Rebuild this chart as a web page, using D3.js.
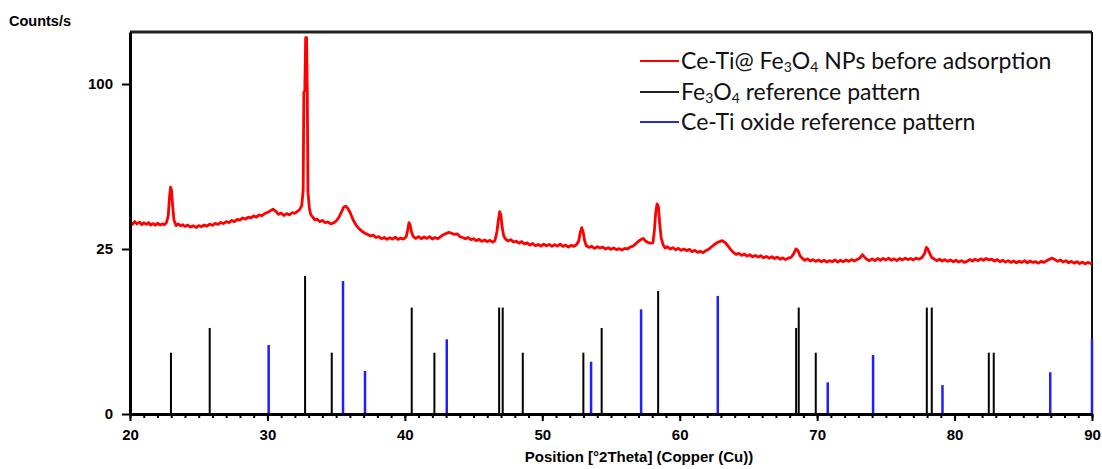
<!DOCTYPE html>
<html>
<head>
<meta charset="utf-8">
<script src="https://cdn.jsdelivr.net/npm/d3@7.9.0/dist/d3.min.js"></script>
<style>
  body { margin: 0; background: #fff; }
  svg { display: block; }
  .axis text { font-family: "Liberation Sans", Arial, sans-serif; font-weight: bold; fill: #000; }
  .legend text { font-family: Lato, "Open Sans", sans-serif; fill: #111; }
</style>
</head>
<body>
<svg id="xrd" width="1102" height="469"></svg>
<script>
// measured scan: [2theta, counts/s]
const scan = [
  [20.0,33.9],[20.2,33.1],[20.35,34.0],[20.5,33.2],[20.7,33.8],[20.85,32.9],[21.0,33.6],[21.2,33.0],
  [21.35,33.7],[21.5,32.8],[21.7,33.3],[21.85,32.7],[22.0,33.4],[22.2,32.8],[22.35,33.2],[22.5,32.9],
  [22.65,33.6],[22.78,36.0],[22.88,43.5],[22.95,47.3],[23.02,46.0],[23.1,40.0],[23.2,34.5],[23.35,32.6],
  [23.5,33.2],[23.7,32.5],[23.85,32.9],[24.0,32.3],[24.2,32.8],[24.4,32.1],[24.6,32.5],[24.85,31.9],
  [25.0,32.6],[25.2,32.2],[25.4,32.8],[25.6,32.4],[25.8,33.1],[26.0,32.7],[26.2,33.4],[26.4,33.0],
  [26.6,33.7],[26.8,33.3],[27.0,34.0],[27.2,33.6],[27.4,34.4],[27.6,34.0],[27.8,34.8],[28.0,34.5],
  [28.2,35.3],[28.4,34.9],[28.6,35.6],[28.8,35.3],[29.0,36.0],[29.2,35.6],[29.4,36.4],[29.6,36.1],
  [29.8,36.9],[30.0,37.3],[30.2,37.9],[30.4,38.5],[30.6,37.8],[30.8,36.6],[31.0,37.1],[31.2,36.2],
  [31.4,36.9],[31.6,36.4],[31.8,37.2],[32.0,37.0],[32.2,37.8],[32.35,38.4],[32.5,40.0],[32.6,46.0],
  [32.65,95.0],[32.72,96.0],[32.78,130.0],[32.85,130.0],[32.9,95.0],[32.95,45.0],[33.05,39.0],[33.15,36.5],
  [33.3,35.6],[33.45,34.6],[33.6,34.9],[33.8,34.0],[34.0,34.4],[34.2,33.6],[34.4,33.9],[34.6,33.2],
  [34.8,33.5],[35.0,34.2],[35.2,35.5],[35.4,37.6],[35.55,39.3],[35.7,39.7],[35.85,38.8],[36.0,37.5],
  [36.15,35.6],[36.3,34.0],[36.45,32.8],[36.6,31.9],[36.75,31.2],[36.9,30.6],[37.1,30.0],[37.3,29.6],
  [37.5,29.1],[37.7,29.4],[37.9,28.6],[38.1,28.9],[38.3,28.2],[38.5,28.6],[38.7,28.0],[38.9,28.5],
  [39.1,28.1],[39.3,28.7],[39.5,28.0],[39.7,28.4],[39.9,28.1],[40.1,28.9],[40.2,31.0],[40.3,33.6],
  [40.38,33.0],[40.48,30.5],[40.6,29.0],[40.8,28.3],[41.0,28.9],[41.2,28.2],[41.4,28.8],[41.6,28.3],
  [41.8,28.9],[42.0,28.1],[42.2,28.6],[42.4,28.2],[42.6,28.9],[42.8,29.5],[43.0,29.9],[43.2,30.3],
  [43.4,30.0],[43.6,29.6],[43.8,29.8],[44.0,28.9],[44.2,28.6],[44.4,28.2],[44.6,28.6],[44.8,27.9],
  [45.0,28.2],[45.2,27.6],[45.4,28.0],[45.6,27.4],[45.8,27.8],[46.0,27.3],[46.2,27.7],[46.4,27.1],
  [46.55,27.6],[46.7,30.5],[46.8,34.5],[46.9,37.6],[46.98,36.5],[47.08,32.0],[47.2,29.0],[47.35,28.0],
  [47.5,27.5],[47.7,27.9],[47.9,27.2],[48.1,27.4],[48.3,26.8],[48.5,27.3],[48.7,26.6],[48.9,26.9],
  [49.1,26.2],[49.3,26.7],[49.5,26.0],[49.7,26.4],[49.9,25.9],[50.1,26.5],[50.3,26.0],[50.5,26.4],
  [50.7,25.8],[50.9,26.3],[51.1,25.9],[51.3,26.5],[51.5,25.8],[51.7,26.2],[51.9,25.6],[52.1,26.1],
  [52.3,25.8],[52.5,26.4],[52.65,27.5],[52.75,30.0],[52.87,31.9],[52.97,30.5],[53.08,27.6],[53.2,26.0],
  [53.4,25.5],[53.6,25.8],[53.8,25.2],[54.0,25.7],[54.2,25.3],[54.4,25.6],[54.6,25.0],[54.8,25.4],
  [55.0,24.9],[55.2,25.3],[55.4,24.8],[55.6,25.1],[55.8,24.7],[56.0,25.2],[56.2,25.0],[56.4,25.6],
  [56.6,25.9],[56.8,26.6],[57.0,27.4],[57.2,28.0],[57.35,28.3],[57.5,27.5],[57.7,27.0],[57.9,26.8],
  [58.05,26.9],[58.15,30.5],[58.25,37.0],[58.35,40.5],[58.45,39.5],[58.55,33.0],[58.65,28.5],[58.8,26.2],
  [58.95,25.3],[59.1,25.7],[59.3,25.0],[59.5,25.4],[59.7,24.8],[59.9,25.2],[60.1,24.6],[60.3,25.0],
  [60.5,24.5],[60.7,24.9],[60.9,24.2],[61.1,24.6],[61.3,24.0],[61.5,24.3],[61.7,23.9],[61.9,24.5],
  [62.1,24.9],[62.3,25.6],[62.5,26.3],[62.7,26.9],[62.9,27.3],[63.1,27.6],[63.3,27.0],[63.5,26.0],
  [63.7,24.9],[63.9,24.0],[64.1,23.4],[64.3,23.7],[64.5,23.1],[64.7,23.5],[64.9,22.9],[65.1,23.3],
  [65.3,22.7],[65.5,23.1],[65.7,22.6],[65.9,23.0],[66.1,22.4],[66.3,22.8],[66.5,22.3],[66.7,22.7],
  [66.9,22.2],[67.1,22.6],[67.3,22.0],[67.5,22.4],[67.7,21.9],[67.9,22.3],[68.1,22.5],[68.3,23.6],
  [68.45,25.0],[68.6,24.6],[68.75,23.0],[68.9,22.3],[69.1,21.7],[69.3,22.1],[69.5,21.5],[69.7,21.9],
  [69.9,21.4],[70.1,21.8],[70.3,21.3],[70.5,21.7],[70.7,21.2],[70.9,21.6],[71.1,21.3],[71.3,21.8],
  [71.5,21.2],[71.7,21.7],[71.9,21.3],[72.1,21.8],[72.3,21.4],[72.5,21.9],[72.7,21.5],[72.9,21.9],
  [73.1,22.3],[73.3,23.3],[73.45,22.6],[73.6,22.0],[73.8,21.6],[74.0,22.1],[74.2,21.6],[74.4,22.2],
  [74.6,21.7],[74.8,22.2],[75.0,21.8],[75.2,22.3],[75.4,21.7],[75.6,22.1],[75.8,21.6],[76.0,22.2],
  [76.2,21.8],[76.4,22.3],[76.6,21.9],[76.8,22.2],[77.0,21.8],[77.2,22.3],[77.4,22.0],[77.6,22.4],
  [77.8,23.5],[77.95,25.5],[78.05,25.0],[78.2,23.6],[78.35,22.4],[78.5,22.1],[78.7,21.6],[78.9,22.0],
  [79.1,21.5],[79.3,21.9],[79.5,21.4],[79.7,21.8],[79.9,21.3],[80.1,21.7],[80.3,21.2],[80.5,21.6],
  [80.7,21.1],[80.9,21.4],[81.1,21.9],[81.3,21.5],[81.5,22.0],[81.7,21.6],[81.9,22.1],[82.1,21.7],
  [82.3,22.2],[82.5,21.8],[82.7,22.0],[82.9,21.5],[83.1,21.9],[83.3,21.3],[83.5,21.7],[83.7,21.2],
  [83.9,21.6],[84.1,21.1],[84.3,21.5],[84.5,21.0],[84.7,21.4],[84.9,21.1],[85.1,21.6],[85.3,21.0],
  [85.5,21.5],[85.7,21.1],[85.9,21.3],[86.1,20.9],[86.3,21.4],[86.5,21.1],[86.7,21.6],[86.9,22.0],
  [87.1,22.3],[87.3,21.9],[87.5,21.4],[87.7,21.8],[87.9,21.2],[88.1,21.6],[88.3,21.0],[88.5,21.4],
  [88.7,20.9],[88.9,21.3],[89.1,20.8],[89.3,21.2],[89.5,20.7],[89.7,21.1],[89.9,20.8],[90.0,21.0]
];

// reference patterns (stick positions and heights)
const fe3o4Pos = [22.98, 25.8, 32.74, 34.68, 40.5, 42.15, 46.86, 47.12, 48.58, 52.99, 54.32, 58.43,
                  68.47, 68.66, 69.9, 77.98, 78.34, 82.49, 82.85];
const fe3o4Int = [3.45, 6.8, 17.5, 3.45, 10.4, 3.45, 10.4, 10.4, 3.45, 3.45, 6.8, 13.9,
                  6.8, 10.4, 3.45, 10.4, 10.4, 3.45, 3.45];
const ceTiPos = [30.09, 35.5, 37.1, 43.05, 53.55, 57.19, 62.77, 70.77, 74.07, 79.12, 86.96, 90.0];
const ceTiInt = [4.37, 16.24, 1.70, 5.12, 2.51, 10.06, 12.8, 0.92, 3.2, 0.77, 1.6, 5.12];

const xTicks = [20, 30, 40, 50, 60, 70, 80, 90];
const yTicks = [0, 25, 100];
const legendItems = [
  { color: "#ff0000", parts: [["Ce-Ti@ Fe"], ["3", true], ["O"], ["4", true], [" NPs before adsorption"]] },
  { color: "#222222", parts: [["Fe"], ["3", true], ["O"], ["4", true], [" reference pattern"]] },
  { color: "#2a2ad8", parts: [["Ce-Ti oxide reference pattern"]] }
];

const svg = d3.select("#xrd");
const plotLeft = 130, plotRight = 1092, plotTop = 32, plotBottom = 414;

let x = d3.scaleLinear().domain([20, 90]).range([plotLeft, plotRight]);
let y = d3.scaleSqrt().domain([0, 134]).range([plotBottom, plotTop]);

// frame (top and right)
svg.append("line").attr("x1", plotLeft).attr("x2", plotRight).attr("y1", plotTop).attr("y2", plotTop)
  .attr("stroke", "#222").attr("stroke-width", 3);
svg.append("line").attr("x1", plotRight).attr("x2", plotRight).attr("y1", plotTop).attr("y2", plotBottom)
  .attr("stroke", "#111").attr("stroke-width", 2);

// reference sticks
const fe3o4 = fe3o4Pos.map((p, i) => ({ pos: p, val: fe3o4Int[i] }));
const ceTi = ceTiPos.map((p, i) => ({ pos: p, val: ceTiInt[i] }));

svg.append("g").selectAll("line")
  .data(fe3o4)
  .enter()
  .append("line")
  .attr("x1", d => x(d.pos)).attr("x2", d => x(d.pos))
  .attr("y1", plotBottom).attr("y2", d => y(d.val))
  .attr("stroke", "#000").attr("stroke-width", 2);

svg.append("g").selectAll("line")
  .data(ceTi)
  .enter()
  .append("line")
  .attr("x1", d => x(d.pos)).attr("x2", d => x(d.pos))
  .attr("y1", plotBottom).attr("y2", d => y(d.val))
  .attr("stroke", "#1f1fff").attr("stroke-width", 2.5);

// measured pattern
let line = d3.line().x(d => x(d[0])).y(d => y(d[1]));
svg.append("path")
  .datum(scan)
  .attr("d", line)
  .attr("fill", "none")
  .attr("stroke", "#ff0000")
  .attr("stroke-width", 2.8)
  .attr("stroke-linejoin", "round");

// x axis: minor ticks every degree, labelled every ten
let xMinor = svg.append("g").attr("class", "axis")
  .attr("transform", `translate(0,${plotBottom})`)
  .call(d3.axisBottom(x).tickValues(d3.range(20, 91, 1)).tickSize(4).tickFormat(""));
xMinor.select(".domain").remove();
xMinor.selectAll("line").attr("stroke-width", 2);

let xAxis = svg.append("g").attr("class", "axis")
  .attr("transform", `translate(0,${plotBottom})`)
  .call(d3.axisBottom(x).tickValues(xTicks).tickSize(7).tickSizeOuter(0).tickPadding(8));
xAxis.select(".domain").attr("stroke-width", 3);
xAxis.selectAll("line").attr("stroke-width", 2);
xAxis.selectAll("text").attr("font-size", 15);

let yAxis = svg.append("g").attr("class", "axis")
  .attr("transform", `translate(${plotLeft},0)`)
  .call(d3.axisLeft(y).tickValues(yTicks).tickSize(8).tickSizeOuter(0).tickPadding(9));
yAxis.select(".domain").attr("stroke-width", 3);
yAxis.selectAll("line").attr("stroke-width", 2);
yAxis.selectAll("text").attr("font-size", 15);

// axis titles
svg.append("text")
  .attr("x", 9).attr("y", 26)
  .style("font-family", "'Liberation Sans', Arial, sans-serif")
  .style("font-weight", "bold").attr("font-size", 14.5)
  .text("Counts/s");

svg.append("text")
  .attr("x", 639).attr("y", 462)
  .attr("text-anchor", "middle")
  .style("font-family", "'Liberation Sans', Arial, sans-serif")
  .style("font-weight", "bold").attr("font-size", 15)
  .text("Position [°2Theta] (Copper (Cu))");

// legend
let legend = svg.append("g").attr("class", "legend");
const rowY = [61, 92, 122];
legendItems.forEach((item, i) => {
  legend.append("line")
    .attr("x1", 640).attr("x2", 679)
    .attr("y1", rowY[i]).attr("y2", rowY[i])
    .attr("stroke", item.color).attr("stroke-width", 2);
  let t = legend.append("text")
    .attr("x", 681).attr("y", rowY[i] + 8)
    .attr("font-size", 23);
  let shifted = false;
  item.parts.forEach(([s, sub]) => {
    let dy = 0;
    if (sub && !shifted) { dy = 3; shifted = true; }
    if (!sub && shifted) { dy = -3; shifted = false; }
    t.append("tspan")
      .attr("font-size", sub ? 14 : 23)
      .attr("dy", dy)
      .text(s);
  });
});
</script>
</body>
</html>
